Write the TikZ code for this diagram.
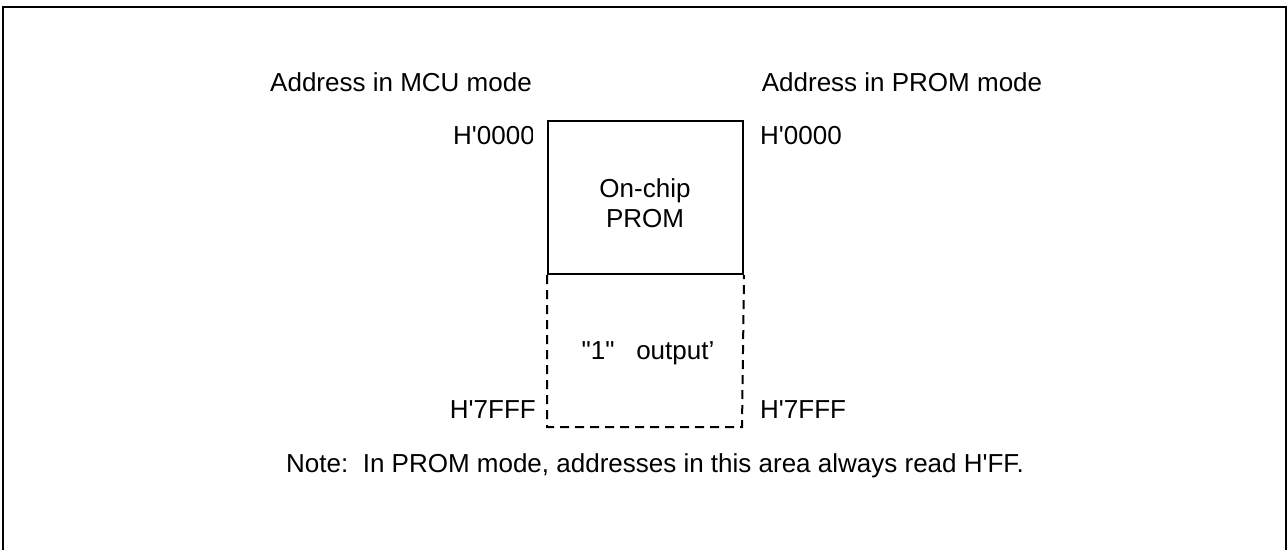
\documentclass[tikz,border=0pt]{standalone}
\usepackage{fontspec}
\setmainfont{Liberation Sans}[Ligatures=TeXOff]
\begin{document}
\begin{tikzpicture}[x=1pt,y=-1pt,
  lbl/.style={inner sep=0pt,font=\fontsize{26}{30}\selectfont},
  frameline/.style={line width=2pt},
  boxline/.style={line width=2pt},
  dashline/.style={line width=2pt,dash pattern=on 9pt off 6pt}]
\useasboundingbox (0,0) rectangle (1288,549);
\draw[frameline] (3,551) -- (3,7) -- (1286,7) -- (1286,551);
\node[lbl] (mcu) at (401,82) {Address in MCU mode};
\node[lbl] (prom) at (902,82) {Address in PROM mode};
\node[draw,boxline,minimum width=195pt,minimum height=153pt,inner sep=0pt,anchor=north west] (chip) at (547,120) {};
\node[lbl,align=center] (chiptxt) at (645,203) {On-chip\\PROM};
\coordinate (dl) at (547,427);
\coordinate (dr) at (742,427);
\draw[dashline] (chip.south west) -- (dl) -- (dr) -- (chip.south east);
\node[lbl] (one) at (648,353) {"1"\ \ \ output’};
\begin{scope}
\clip (0,0) rectangle (532,549);
\node[lbl,anchor=west] (a0l) at (453,136) {H'0000};
\end{scope}
\node[lbl,anchor=west] (a0r) at (760,136) {H'0000};
\node[lbl,anchor=east] (a7l) at (536,410) {H'7FFF};
\node[lbl,anchor=west] (a7r) at (760,410) {H'7FFF};
\node[lbl] (note) at (655,466) {Note:\ \ In PROM mode, addresses in this area always read H'FF.};
\end{tikzpicture}
\end{document}
